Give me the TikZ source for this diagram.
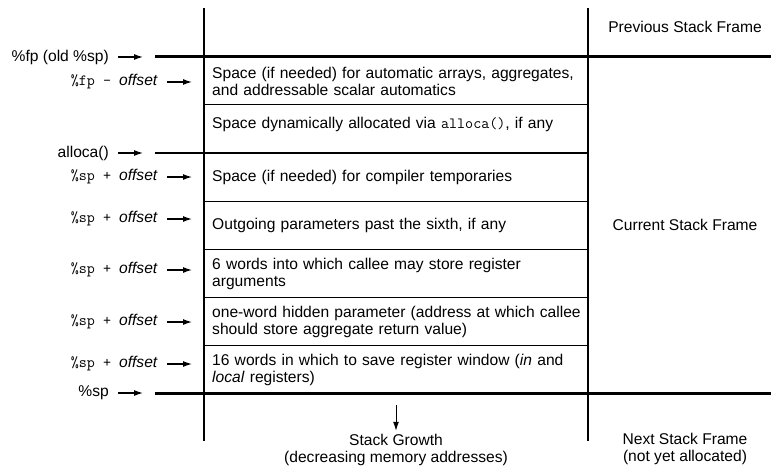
\documentclass[tikz,border=0pt]{standalone}
\usepackage{fontspec}
\setmainfont{Liberation Sans}
\usetikzlibrary{arrows.meta,positioning}

\begin{document}
\begin{tikzpicture}[
    x=1pt, y=-1pt,
    slot/.style={anchor=west, inner sep=0pt, text width=376pt, align=left,
                 font=\fontsize{15.6}{17}\selectfont},
    addr/.style={anchor=east, inner xsep=9pt, inner ysep=0pt,
                 font=\fontsize{15.6}{17}\selectfont},
    framelbl/.style={align=center, inner sep=0pt, font=\fontsize{15.6}{17.5}\selectfont},
    ptr/.style={-{Latex[length=9pt,width=6pt]}, line width=1.2pt},
    rule/.style={line width=1pt},
    frameline/.style={line width=3pt}
  ]
    \useasboundingbox (0,0) rectangle (771,468);

    % Stack columns
    \draw[line width=1.3pt] (204,8) -- (204,441);
    \draw[line width=1.3pt] (588,8) -- (588,441);

    % Frame boundaries
    \coordinate (fpline) at (155,57);
    \coordinate (spline) at (155,393);
    \coordinate (alline) at (155,153);
    \draw[frameline] (fpline) -- (771,57);
    \draw[frameline] (spline) -- (771,393);
    \draw[line width=1.6pt] (alline) -- (588,153);
    \foreach \y in {105,201,249,297,345}
      \draw[rule] (204,\y) -- (588,\y);

    % Slots
    \node[slot] (r1) at (212,81)
      {Space (if needed) for automatic arrays, aggregates,\\and addressable scalar automatics};
    \node[slot] (r2) at (212,124)
      {Space dynamically allocated via {\ttfamily alloca()}, if any};
    \node[slot] (r3) at (212,177) {Space (if needed) for compiler temporaries};
    \node[slot] (r4) at (212,225) {Outgoing parameters past the sixth, if any};
    \node[slot] (r5) at (212,274)
      {6 words into which callee may store register\\arguments};
    \node[slot] (r6) at (212,322)
      {one-word hidden parameter (address at which callee\\should store aggregate return value)};
    \node[slot] (r7) at (212,370)
      {16 words in which to save register window (\textit{in} and\\\textit{local} registers)};

    % Pointers to frame boundaries
    \node[addr] (fp) at (118,57) {\%fp (old \%sp)};
    \node[addr] (al) at (118,153) {alloca()};
    \node[addr] (sp) at (118,393) {\%sp};
    \coordinate (fptip) at (143,57);
    \coordinate (altip) at (143,153);
    \coordinate (sptip) at (143,393);
    \draw[ptr] (fp) -- (fptip);
    \draw[ptr] (al) -- (altip);
    \draw[ptr] (sp) -- (sptip);

    % Offsets into the frame
    \node[addr] (off1) at (167,82) {{\ttfamily\%fp - }\textit{offset}};
    \coordinate (offtip1) at (192,82);
    \draw[ptr] (off1) -- (offtip1);
    \foreach \y/\n in {177/3,219/4,270/5,322/6,364/7}{
      \node[addr] (off\n) at (167,\y) {{\ttfamily\%sp + }\textit{offset}};
      \coordinate (offtip\n) at (192,\y);
      \draw[ptr] (off\n) -- (offtip\n);
    }

    % Frame names
    \node[framelbl] (prev) at (685,27) {Previous Stack Frame};
    \node[framelbl] (cur) at (685,225) {Current Stack Frame};
    \node[framelbl] (next) at (685,449) {Next Stack Frame\\(not yet allocated)};

    % Growth direction
    \node[framelbl, inner ysep=3pt] (growth) at (396,450)
      {Stack Growth\\(decreasing memory addresses)};
    \coordinate (gtop) at (396,405);
    \draw[ptr, line width=1pt] (gtop) -- (growth);
  \end{tikzpicture}
\end{document}
